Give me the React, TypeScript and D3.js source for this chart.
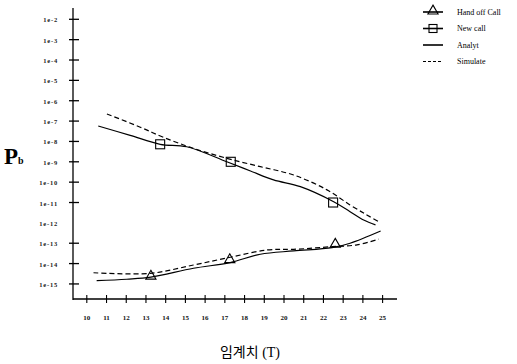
import React from 'react'
import { scaleLinear, scaleLog, line, curveCatmullRom, symbol, symbolTriangle } from 'd3'

// threshold T
const analytNewX = [10.58, 12.2, 13.72, 15.07, 17.1, 18.3, 19.47, 20.83, 22.52, 23.35, 24.04, 24.64]
const analytNewExp = [7.24, 7.7, 8.14, 8.26, 9.0, 9.45, 9.89, 10.22, 10.96, 11.45, 11.86, 12.1]
const simNewX = [11.02, 12.71, 13.89, 15.41, 17.1, 18.8, 20.49, 22.18, 23.35, 24.2, 24.8]
const simNewExp = [6.65, 7.3, 7.8, 8.34, 8.83, 9.24, 9.65, 10.38, 11.12, 11.61, 11.94]
const analytHoX = [10.5, 12.03, 13.25, 15.41, 17.27, 18.8, 20.49, 22.44, 23.35, 24.9]
const analytHoExp = [14.84, 14.77, 14.67, 14.23, 13.95, 13.54, 13.38, 13.22, 13.0, 12.4]
const simHoX = [10.34, 13.21, 15.41, 17.27, 19.14, 20.49, 22.44, 23.7, 24.8]
const simHoExp = [14.45, 14.48, 14.07, 13.69, 13.33, 13.3, 13.17, 13.08, 12.8]
const newMarkX = [13.72, 17.3, 22.49]
const newMarkExp = [8.14, 9.0, 11.0]
const hoMarkX = [13.25, 17.25, 22.6]
const hoMarkExp = [14.67, 13.86, 13.1]
const xTicks = [10, 11, 12, 13, 14, 15, 16, 17, 18, 19, 20, 21, 22, 23, 24, 25]
const yTickExp = [2, 3, 4, 5, 6, 7, 8, 9, 10, 11, 12, 13, 14, 15]
const legendLabels = ['Hand off Call', 'New call', 'Analyt', 'Simulate']

const W = 517
const H = 364
const serif = '"Liberation Serif", "DejaVu Serif", serif'

export default function App() {
  const x = scaleLinear().domain([9.3, 25.73]).range([73, 397])
  const y = scaleLog().domain([Math.pow(10, -1.445), Math.pow(10, -15.74)]).range([8, 299])
  const yE = (e: number) => y(Math.pow(10, -e))

  const mk = (xs: number[], es: number[]) =>
    line<number>().x((d, i) => x(xs[i])).y((d, i) => yE(es[i])).curve(curveCatmullRom.alpha(0.5))(xs) || ''

  const tri = symbol().type(symbolTriangle).size(45)()
  const x0 = x.range()[0]
  const yBot = y.range()[1]

  return (
    <svg width={W} height={H} style={{ position: 'absolute', left: 0, top: 0, background: '#fff' }}>
      <rect width={W} height={H} fill="#fff" />
      {/* axes */}
      <line x1={x0} x2={x0} y1={8} y2={yBot + 1} stroke="#000" strokeWidth={1.3} />
      <line x1={x0} x2={x.range()[1]} y1={yBot} y2={yBot} stroke="#000" strokeWidth={1.3} />
      {yTickExp.map(e => (
        <g key={e}>
          {e !== 12 && <line x1={x0 - 4} x2={x0 + 6} y1={yE(e)} y2={yE(e)} stroke="#000" strokeWidth={1.3} />}
          <text x={x0 - 15} y={yE(e) + 3} fontSize={6.5} letterSpacing={0.8} fontFamily={serif} fontWeight="bold" textAnchor="end" fill="#222">{`1e-${e}`}</text>
        </g>
      ))}
      {xTicks.map(t => (
        <g key={t}>
          <line x1={x(t)} x2={x(t)} y1={yBot - 4} y2={yBot + 4} stroke="#000" strokeWidth={1.1} />
          <text x={x(t)} y={yBot + 21} fontSize={7} fontFamily={serif} fontWeight="bold" textAnchor="middle" fill="#111">{t}</text>
        </g>
      ))}
      {/* axis titles */}
      <text x={4} y={164} fontFamily={serif} fontWeight="bold" fontSize={23} fill="#000">P<tspan fontSize={10}>b</tspan></text>
      <text x={250} y={357} textAnchor="middle" fontSize={14} fill="#000">
        <tspan fontFamily='"Noto Sans CJK KR", sans-serif'>임계치</tspan>
        <tspan fontFamily={serif}> (T)</tspan>
      </text>
      {/* curves */}
      <g fill="none" stroke="#000" strokeWidth={1.2}>
        <path d={mk(analytNewX, analytNewExp)} />
        <path d={mk(simNewX, simNewExp)} strokeDasharray="5,3" />
        <path d={mk(analytHoX, analytHoExp)} />
        <path d={mk(simHoX, simHoExp)} strokeDasharray="5,3" />
      </g>
      {newMarkX.map((v, i) => (
        <rect key={i} x={x(v) - 4.5} y={yE(newMarkExp[i]) - 4.5} width={9} height={9} fill="none" stroke="#000" strokeWidth={1.1} />
      ))}
      {hoMarkX.map((v, i) => (
        <path key={i} d={tri} transform={`translate(${x(v)},${yE(hoMarkExp[i]) - 1})`} fill="none" stroke="#000" strokeWidth={1.1} />
      ))}
      {/* legend */}
      <g fontFamily={serif} fontSize={8} fill="#000">
        {legendLabels.map((lab, i) => {
          const ly = 12 + i * 16.5
          return (
            <g key={lab}>
              <line x1={423} x2={443} y1={ly} y2={ly} stroke="#000" strokeWidth={i === 3 ? 1 : 1.6} strokeDasharray={i === 3 ? '3,2' : undefined} />
              {i === 0 && <path d={tri} transform={`translate(433,${ly - 1})`} fill="none" stroke="#000" strokeWidth={1.1} />}
              {i === 1 && <rect x={429} y={ly - 4} width={8} height={8} fill="none" stroke="#000" strokeWidth={1.1} />}
              <text x={457} y={ly + 2.5}>{lab}</text>
            </g>
          )
        })}
      </g>
    </svg>
  )
}
